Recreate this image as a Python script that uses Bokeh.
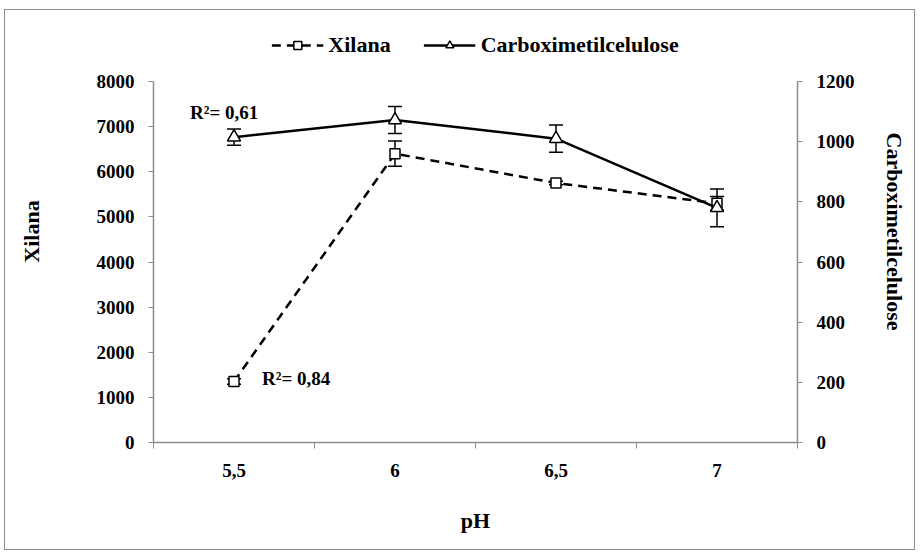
from bokeh.plotting import figure
from bokeh.models import (Range1d, LinearAxis, FixedTicker, ColumnDataSource, Whisker,
                          TeeHead, Legend, LegendItem, Label)
from bokeh.embed import file_html
from bokeh.resources import INLINE

# data
ph = [5.5, 6.0, 6.5, 7.0]
ph_labels = ["5,5", "6", "6,5", "7"]
xilana = [1350, 6400, 5750, 5300]
xilana_err = [60, 280, 40, 150]
cmc = [1015, 1072, 1010, 780]
cmc_err = [27, 45, 45, 63]
left_ticks = [0, 1000, 2000, 3000, 4000, 5000, 6000, 7000, 8000]
right_ticks = [0, 200, 400, 600, 800, 1000, 1200]
r2_xilana = "R²= 0,84"
r2_cmc = "R²= 0,61"

FONT = "Liberation Serif"
FS = "19px"
FS_T = "22px"
AXC = "#8c8c8c"

# frame extends above the axes' top so the legend can sit inside it
FRAME_H = 422
AXIS_H = 361
ext = FRAME_H / AXIS_H

p = figure(frame_width=644, frame_height=FRAME_H, output_backend="svg", toolbar_location=None,
           x_range=Range1d(5.25, 7.25), y_range=Range1d(0, 8000 * ext),
           min_border_left=148, min_border_right=117, min_border_top=10, min_border_bottom=107)
p.styles = {"border": "1px solid #8c8c8c", "margin-left": "4px", "margin-top": "9px"}
p.extra_y_ranges = {"cmc": Range1d(0, 1200 * ext)}
p.outline_line_color = None
p.xgrid.grid_line_color = None
p.ygrid.grid_line_color = None
p.background_fill_color = "white"
p.border_fill_color = "white"

# axes
xa = p.xaxis[0]
xa.ticker = FixedTicker(ticks=ph, minor_ticks=[5.25, 5.75, 6.25, 6.75, 7.25])
xa.major_label_overrides = {v: l for v, l in zip(ph, ph_labels)}
xa.major_tick_out = 0
xa.major_tick_in = 0
xa.minor_tick_out = 6
xa.minor_tick_in = 0
xa.axis_label = "pH"

ya = p.yaxis[0]
ya.ticker = FixedTicker(ticks=left_ticks)
ya.bounds = (0, 8000)
ya.axis_label = "Xilana"

ra = LinearAxis(y_range_name="cmc", ticker=FixedTicker(ticks=right_ticks),
                axis_label="Carboximetilcelulose", bounds=(0, 1200))
p.add_layout(ra, "right")

for ax in [xa, ya, ra]:
    ax.axis_line_color = AXC
    ax.axis_line_width = 1.5
    ax.major_tick_line_color = AXC
    ax.minor_tick_line_color = AXC
    ax.major_label_text_font = FONT
    ax.major_label_text_font_style = "bold"
    ax.major_label_text_font_size = FS
    ax.major_label_text_color = "black"
    ax.axis_label_text_font = FONT
    ax.axis_label_text_font_style = "bold"
    ax.axis_label_text_font_size = FS_T
    ax.axis_label_text_color = "black"
for ax in [ya, ra]:
    ax.major_tick_out = 5
    ax.major_tick_in = 0
    ax.minor_tick_out = 0
    ax.minor_tick_in = 0
    ax.major_label_standoff = 14
ya.axis_label_standoff = 50
ra.axis_label_standoff = 24
xa.major_label_standoff = 15
xa.axis_label_standoff = 28

# sources
sx = ColumnDataSource(dict(x=ph, y=xilana,
                           lo=[v - e for v, e in zip(xilana, xilana_err)],
                           hi=[v + e for v, e in zip(xilana, xilana_err)]))
sc = ColumnDataSource(dict(x=ph, y=cmc,
                           lo=[v - e for v, e in zip(cmc, cmc_err)],
                           hi=[v + e for v, e in zip(cmc, cmc_err)]))

# error bars
wx = Whisker(source=sx, base="x", lower="lo", upper="hi", line_color="black", line_width=1.5,
             upper_head=TeeHead(size=14, line_color="black", line_width=1.5),
             lower_head=TeeHead(size=14, line_color="black", line_width=1.5))
wc = Whisker(source=sc, base="x", lower="lo", upper="hi", line_color="black", line_width=1.5,
             y_range_name="cmc",
             upper_head=TeeHead(size=14, line_color="black", line_width=1.5),
             lower_head=TeeHead(size=14, line_color="black", line_width=1.5))
p.add_layout(wx)
p.add_layout(wc)

lx = p.line("x", "y", source=sx, line_color="black", line_width=2.5, line_dash="9 6")
mx = p.scatter("x", "y", source=sx, marker="square", size=10, fill_color="white",
               line_color="black", line_width=1.5)
lc = p.line("x", "y", source=sc, line_color="black", line_width=2.5, y_range_name="cmc")
mc = p.scatter("x", "y", source=sc, marker="triangle", size=13, fill_color="white",
               line_color="black", line_width=1.5, y_range_name="cmc")

# R² labels
p.add_layout(Label(x=ph[0], y=cmc[0], y_range_name="cmc", text=r2_cmc, x_offset=-44, y_offset=25,
                   text_font=FONT, text_font_style="bold", text_font_size=FS, text_color="black",
                   text_baseline="middle", text_align="left"))
p.add_layout(Label(x=ph[0], y=xilana[0], text=r2_xilana, x_offset=28, y_offset=3,
                   text_font=FONT, text_font_style="bold", text_font_size=FS, text_color="black",
                   text_baseline="middle", text_align="left"))

legend = Legend(items=[LegendItem(label="Xilana", renderers=[lx, mx]),
                       LegendItem(label="Carboximetilcelulose", renderers=[lc, mc])],
                orientation="horizontal", location="top_center",
                border_line_color=None, background_fill_alpha=0,
                glyph_width=52, label_standoff=5, spacing=33,
                label_text_font=FONT, label_text_font_style="bold", label_text_font_size=FS_T,
                label_text_color="black", margin=12, padding=0)
p.add_layout(legend)

open("out.html", "w").write(file_html(p, INLINE))
